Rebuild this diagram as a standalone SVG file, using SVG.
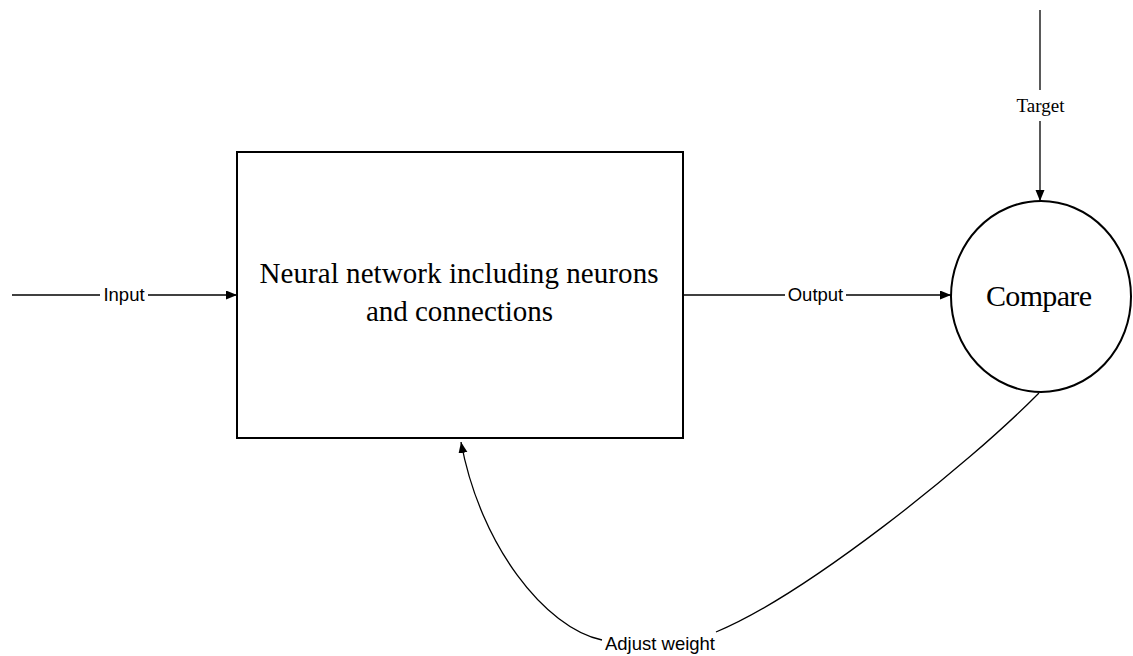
<svg xmlns="http://www.w3.org/2000/svg" width="1133" height="656" viewBox="0 0 1133 656">
  <style>
    .shape { fill: #ffffff; stroke: #000000; stroke-width: 2; }
    .wire { fill: none; stroke: #000000; stroke-width: 1.3; }
    .title { font-family: "Liberation Serif", "Times New Roman", serif; fill: #000000; text-anchor: middle; }
    .tag { font-family: "Liberation Sans", Arial, sans-serif; font-size: 18.5px; fill: #000000; text-anchor: middle; }
    .tag-serif { font-family: "Liberation Serif", "Times New Roman", serif; font-size: 19px; fill: #000000; text-anchor: middle; }
  </style>
  <defs>
    <marker id="arrow" markerUnits="userSpaceOnUse" markerWidth="12" markerHeight="10" refX="11" refY="4.5" orient="auto">
      <path d="M0,0 L11,4.5 L0,9 z" fill="#000000"/>
    </marker>
  </defs>

  <rect width="1133" height="656" fill="#ffffff"/>

  <!-- network block -->
  <g id="network">
    <rect class="shape" x="237" y="152" width="446" height="286"/>
    <text class="title" x="459" y="283" font-size="29" textLength="399" lengthAdjust="spacing">Neural network including neurons</text>
    <text class="title" x="459.5" y="321" font-size="29" textLength="187" lengthAdjust="spacing">and connections</text>
  </g>

  <!-- comparator -->
  <g id="compare">
    <ellipse class="shape" cx="1041" cy="296.5" rx="90" ry="95.5"/>
    <text class="title" x="1039" y="306" font-size="30" textLength="106" lengthAdjust="spacing">Compare</text>
  </g>

  <!-- connectors -->
  <g id="connectors">
    <!-- input -->
    <line class="wire" x1="12" y1="295" x2="100" y2="295"/>
    <line class="wire" x1="148" y1="295" x2="237" y2="295" marker-end="url(#arrow)"/>
    <!-- output -->
    <line class="wire" x1="683" y1="295" x2="785" y2="295"/>
    <line class="wire" x1="846" y1="295" x2="951" y2="295" marker-end="url(#arrow)"/>
    <!-- target -->
    <line class="wire" x1="1040" y1="10" x2="1040" y2="90"/>
    <line class="wire" x1="1040" y1="121" x2="1040" y2="201" marker-end="url(#arrow)"/>
    <!-- feedback loop -->
    <path class="wire" d="M1039,393 C966,467 805,595 716,632"/>
    <path class="wire" d="M602,640 C545,628 480,545 461,442" marker-end="url(#arrow)"/>
  </g>

  <!-- connector labels -->
  <g id="labels">
    <text class="tag" x="124" y="301">Input</text>
    <text class="tag" x="815.5" y="301">Output</text>
    <text class="tag-serif" x="1040.5" y="112">Target</text>
    <text class="tag" x="660" y="650">Adjust weight</text>
  </g>
</svg>
